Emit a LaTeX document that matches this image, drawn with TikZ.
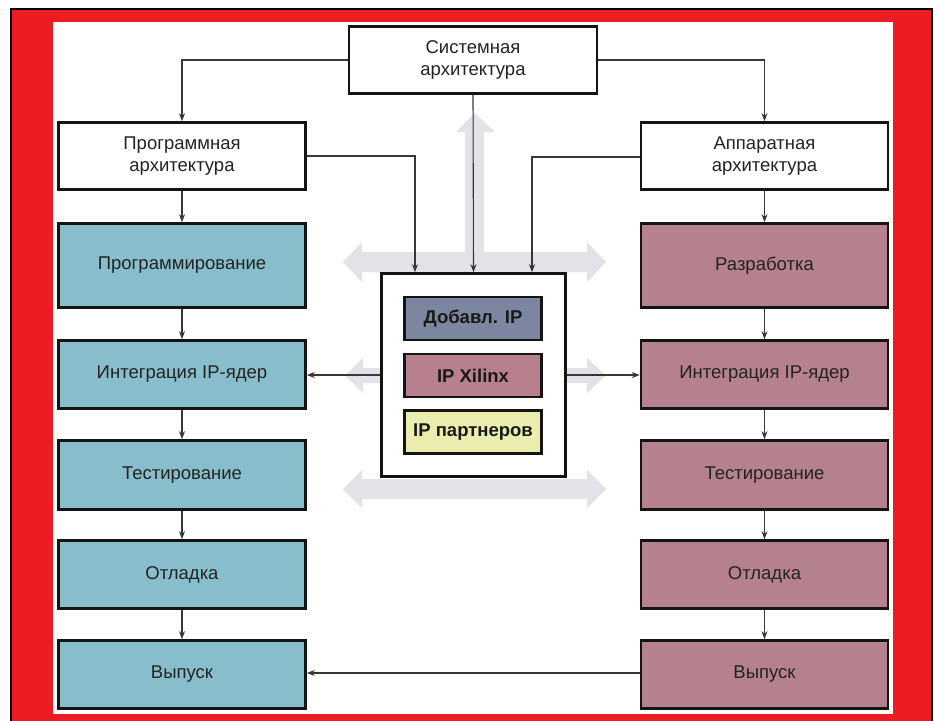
\documentclass[tikz,border=0pt]{standalone}
\usepackage{fontspec}
\setmainfont{Liberation Sans}
\usetikzlibrary{arrows.meta}
\definecolor{framered}{RGB}{237,28,36}
\definecolor{swfill}{RGB}{136,190,204}
\definecolor{hwfill}{RGB}{181,129,143}
\definecolor{addfill}{RGB}{124,134,160}
\definecolor{xilfill}{RGB}{184,128,143}
\definecolor{partfill}{RGB}{234,237,174}
\definecolor{flowgray}{RGB}{226,227,230}
\definecolor{wire}{RGB}{55,55,55}
\definecolor{ink}{RGB}{35,35,35}
\begin{document}
\begin{tikzpicture}[x=1pt,y=-1pt,
  box/.style={draw=black!92,line width=2.6pt,rectangle,inner sep=0pt,align=center,
    text=ink,font=\fontsize{18.5}{22}\selectfont},
  archbox/.style={box,fill=white,minimum width=247pt,minimum height=67pt},
  swbox/.style={box,fill=swfill,minimum width=247pt},
  hwbox/.style={box,fill=hwfill,minimum width=247pt},
  corebox/.style={box,fill=white,minimum width=184pt,minimum height=203pt},
  ipbox/.style={box,minimum width=137pt,minimum height=43pt,
    font=\fontsize{18.5}{20}\selectfont\bfseries,text=black!90},
  conn/.style={draw=wire,line width=1.1pt,-{Stealth[length=8pt,width=6pt]}},
  flow/.style={fill=flowgray,draw=none}
]
\useasboundingbox (0,0) rectangle (939,720);

% frame
\fill[white] (0,0) rectangle (939,720);
\draw[fill=framered,draw=black,line width=1.2pt] (11,9) rectangle (932,726);
\fill[white] (53,22) rectangle (893,714);

% wide grey flow arrows behind the core block
\fill[flow] (465,262) -- (465,132) -- (456,132) -- (474.5,113) -- (495,132) -- (484,132) -- (484,262) -- cycle;
\fill[flow] (343,262) -- (362,242) -- (362,252) -- (587,252) -- (587,242) -- (606,262)
  -- (587,282) -- (587,272) -- (362,272) -- (362,282) -- cycle;
\fill[flow] (345,375.5) -- (363,358) -- (363,368) -- (587,368) -- (587,358) -- (606,375.5)
  -- (587,393) -- (587,383) -- (363,383) -- (363,393) -- cycle;
\fill[flow] (343,489) -- (362,470) -- (362,479) -- (587,479) -- (587,470) -- (606,489)
  -- (587,508) -- (587,499) -- (362,499) -- (362,508) -- cycle;

% architecture level
\node[archbox,minimum width=248pt] (sys) at (473,60) {Системная\\архитектура};
\node[archbox] (parch) at (182,156) {Программная\\архитектура};
\node[archbox] (harch) at (764.5,156) {Аппаратная\\архитектура};

% software flow
\node[swbox,minimum height=84pt] (lprog) at (182,265.5) {Программирование};
\node[swbox,minimum height=68pt] (lint) at (182,374.5) {Интеграция IP-ядер};
\node[swbox,minimum height=69pt] (ltest) at (182,475) {Тестирование};
\node[swbox,minimum height=68pt] (ldbg) at (182,574.5) {Отладка};
\node[swbox,minimum height=68pt] (lrel) at (182,674.5) {Выпуск};

% hardware flow
\node[hwbox,minimum height=84pt] (rdev) at (764.5,265.5) {Разработка};
\node[hwbox,minimum height=68pt] (rint) at (764.5,374.5) {Интеграция IP-ядер};
\node[hwbox,minimum height=69pt] (rtest) at (764.5,475) {Тестирование};
\node[hwbox,minimum height=68pt] (rdbg) at (764.5,574.5) {Отладка};
\node[hwbox,minimum height=68pt] (rrel) at (764.5,674.5) {Выпуск};

% IP core block
\node[corebox] (core) at (473.5,375) {};
\node[ipbox,fill=addfill] (ipadd) at (473,318.5) {Добавл. IP};
\node[ipbox,fill=xilfill] (ipxil) at (473,375.5) {IP Xilinx};
\node[ipbox,fill=partfill] (ippart) at (473,432) {IP партнеров};

% connectors
\draw[conn] (sys.west) -| (parch.north);
\draw[conn] (sys.east) -| (harch.north);
\draw[conn] (sys.south) -- (core.north);
\draw[conn] (parch.east) -| ([xshift=-58.5pt]core.north);
\draw[conn] ([yshift=-1pt]harch.west) -| ([xshift=58.5pt]core.north);

\draw[conn] (parch) -- (lprog);
\draw[conn] (lprog) -- (lint);
\draw[conn] (lint) -- (ltest);
\draw[conn] (ltest) -- (ldbg);
\draw[conn] (ldbg) -- (lrel);

\draw[conn] (harch) -- (rdev);
\draw[conn] (rdev) -- (rint);
\draw[conn] (rint) -- (rtest);
\draw[conn] (rtest) -- (rdbg);
\draw[conn] (rdbg) -- (rrel);

\draw[conn] (core.west) -- (core.west -| lint.east);
\draw[conn] (core.east) -- (core.east -| rint.west);
\draw[conn] ([yshift=1.5pt]rrel.west) -- ([yshift=1.5pt]rrel.west -| lrel.east);
\end{tikzpicture}
\end{document}
